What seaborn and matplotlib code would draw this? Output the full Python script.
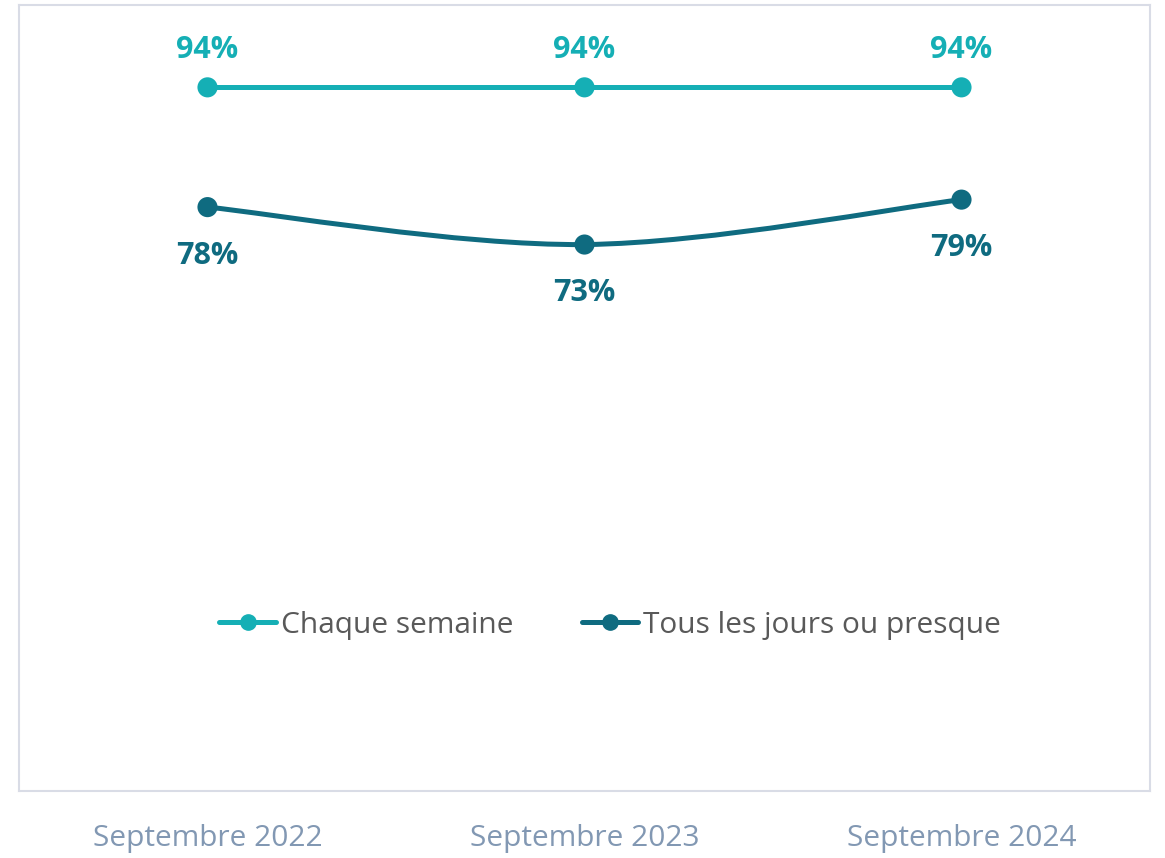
import numpy as np
import pandas as pd
import matplotlib
matplotlib.use("Agg")
import matplotlib.pyplot as plt
from matplotlib.path import Path
from matplotlib.patches import PathPatch
from matplotlib.lines import Line2D
import seaborn as sns

# Data
periods = ["Septembre 2022", "Septembre 2023", "Septembre 2024"]
chaque_semaine = [94, 94, 94]
tous_les_jours = [78, 73, 79]
series_names = ["Chaque semaine", "Tous les jours ou presque"]

col_light = "#15AFB5"
col_dark = "#0F6B80"

sns.set_theme(style="white")
plt.rcParams['font.family'] = ['Open Sans', 'DejaVu Sans']

fig = plt.figure(figsize=(11.65, 8.58), dpi=100)
ax = fig.add_axes([19 / 1165, 67 / 858, 1131 / 1165, 786 / 858])

x = np.arange(len(periods))
df = pd.DataFrame({"x": np.concatenate([x, x]),
                   "val": chaque_semaine + tous_les_jours,
                   "serie": [series_names[0]] * 3 + [series_names[1]] * 3})

# straight line for first series
sns.lineplot(data=df[df.serie == series_names[0]], x="x", y="val", color=col_light,
             lw=3.6, ax=ax, legend=False)


# smoothed line (Excel-like) for second series, drawn as a bezier path
def smooth_path(xs, ys):
    pts = np.column_stack([xs, ys]).astype(float)
    p = np.vstack([pts[0], pts, pts[-1]])
    verts = [pts[0]]
    codes = [Path.MOVETO]
    for i in range(1, len(p) - 2):
        c1 = p[i] + (p[i + 1] - p[i - 1]) / 6
        c2 = p[i + 1] - (p[i + 2] - p[i]) / 6
        verts += [c1, c2, p[i + 1]]
        codes += [Path.CURVE4] * 3
    return Path(verts, codes)


ax.add_patch(PathPatch(smooth_path(x, tous_les_jours), fill=False, edgecolor=col_dark,
                       lw=3.6, capstyle="round"))

sns.scatterplot(data=df, x="x", y="val", hue="serie", palette=[col_light, col_dark],
                s=210, edgecolor="none", ax=ax, legend=False, zorder=3)

# data labels
for xi, v in zip(x, chaque_semaine):
    ax.annotate(f"{v}%", (xi, v), xytext=(0, 27), textcoords="offset points",
                ha="center", va="center", fontsize=22, fontweight="bold", color=col_light)
for xi, v in zip(x, tous_les_jours):
    ax.annotate(f"{v}%", (xi, v), xytext=(0, -35), textcoords="offset points",
                ha="center", va="center", fontsize=22, fontweight="bold", color=col_dark)

ax.set_xlim(-0.5, 2.5)
ax.set_ylim(0, 105)
ax.set_xticks(x)
ax.set_xticklabels(periods, fontsize=21.5, color="#8298B3")
ax.set_yticks([])
ax.set_xlabel("")
ax.set_ylabel("")
ax.tick_params(axis="x", length=0, pad=24)
for sp in ax.spines.values():
    sp.set_color("#D9DCE6")
    sp.set_linewidth(1.5)

handles = [Line2D([0], [0], color=c, lw=3.6, marker="o", markersize=11) for c in (col_light, col_dark)]
leg = ax.legend(handles, series_names, loc="center", bbox_to_anchor=(0.5226, 0.211),
                ncol=2, frameon=False, fontsize=21.5, handlelength=1.9, handletextpad=0.15,
                columnspacing=2.3, labelcolor="#595959")

fig.savefig("out.png", dpi=100)
